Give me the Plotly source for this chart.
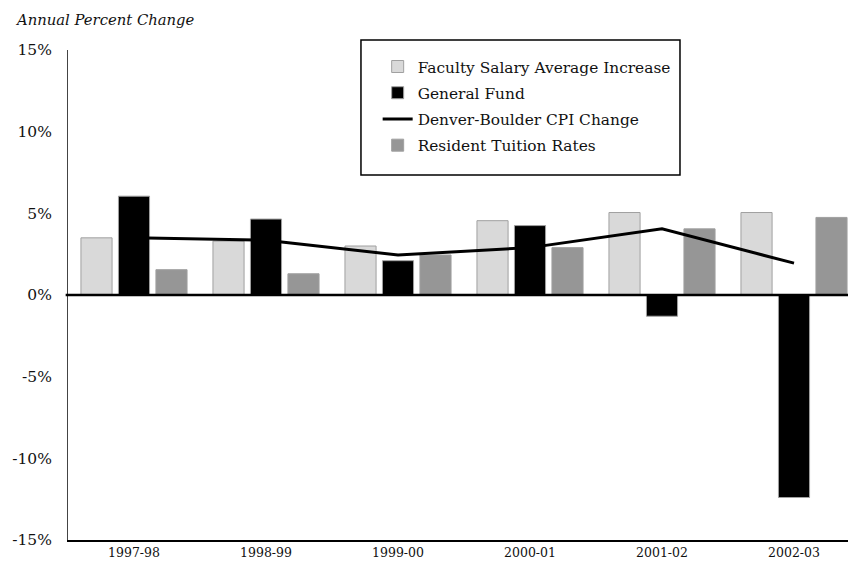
import plotly.graph_objects as go

years = ["1997-98", "1998-99", "1999-00", "2000-01", "2001-02", "2002-03"]
faculty_salary = [3.5, 3.3, 3.0, 4.55, 5.05, 5.05]
general_fund = [6.05, 4.65, 2.1, 4.25, -1.3, -12.4]
cpi_change = [3.5, 3.35, 2.45, 2.9, 4.05, 1.95]
tuition = [1.55, 1.3, 2.45, 2.9, 4.05, 4.75]
y_ticks = [-15, -10, -5, 0, 5, 10, 15]
y_tick_labels = ["-15%", "-10%", "-5%", "0%", "5%", "10%", "15%"]

FONT = "DejaVu Serif"
edge = "#a0a0a0"

fig = go.Figure()
# line first so the bars are drawn over it
fig.add_trace(go.Scatter(x=years, y=cpi_change, mode="lines", name="Denver-Boulder CPI Change",
                         line=dict(color="black", width=3), legendrank=3, legendgroup="c"))
fig.add_trace(go.Bar(x=years, y=faculty_salary, name="Faculty Salary Average Increase",
                     marker=dict(color="#d9d9d9", line=dict(color=edge, width=1)),
                     legendrank=1, legendgroup="a"))
fig.add_trace(go.Bar(x=years, y=general_fund, name="General Fund",
                     marker=dict(color="black", line=dict(color=edge, width=1)),
                     legendrank=2, legendgroup="b"))
fig.add_trace(go.Bar(x=years, y=tuition, name="Resident Tuition Rates",
                     marker=dict(color="#969696", line=dict(color=edge, width=1)),
                     legendrank=4, legendgroup="d"))

fig.update_layout(
    width=848, height=563,
    margin=dict(l=68, r=0, t=50, b=23),
    paper_bgcolor="white", plot_bgcolor="white",
    barmode="group", bargap=0.148, bargroupgap=0.17,
    font=dict(family=FONT, color="#111", size=15),
    showlegend=True,
    legend=dict(x=0.397, y=1.0, xanchor="left", yanchor="top",
                bgcolor="rgba(0,0,0,0)", borderwidth=0,
                font=dict(family=FONT, size=15.4, color="#111"),
                traceorder="grouped", tracegroupgap=3.2),
    xaxis=dict(type="category", range=[-0.5, 5.409], showgrid=False, zeroline=False,
               showline=True, linecolor="black", linewidth=1.5, ticks="",
               tickfont=dict(family=FONT, size=12.5, color="#111")),
    yaxis=dict(range=[-15, 15], tickmode="array", tickvals=y_ticks, ticktext=y_tick_labels,
               showgrid=False, zeroline=False,
               showline=True, linecolor="#444", linewidth=1, ticks="",
               ticklabelstandoff=12,
               tickfont=dict(family=FONT, size=15.5, color="#111")),
    shapes=[
        dict(type="line", xref="paper", yref="y", x0=-0.003, x1=1, y0=0, y1=0,
             line=dict(color="black", width=2.5), layer="above"),
        dict(type="rect", xref="paper", yref="paper", x0=0.3756, x1=0.7846, y0=0.7449, y1=1.0204,
             line=dict(color="black", width=1.5), fillcolor="rgba(0,0,0,0)", layer="above"),
    ],
    annotations=[
        dict(text="<i>Annual Percent Change</i>", xref="paper", yref="paper",
             x=-0.0705, y=1.063, xanchor="left", yanchor="middle", showarrow=False,
             font=dict(family=FONT, size=14.8, color="#111")),
    ],
)

fig.write_html("out.html", config={"displayModeBar": False})

# remove the browser's default page margin so the figure fills the window exactly
with open("out.html", "r", encoding="utf-8") as f:
    html = f.read()
html = html.replace("<head>", "<head><style>html,body{margin:0;padding:0;overflow:hidden;}</style>", 1)
with open("out.html", "w", encoding="utf-8") as f:
    f.write(html)
